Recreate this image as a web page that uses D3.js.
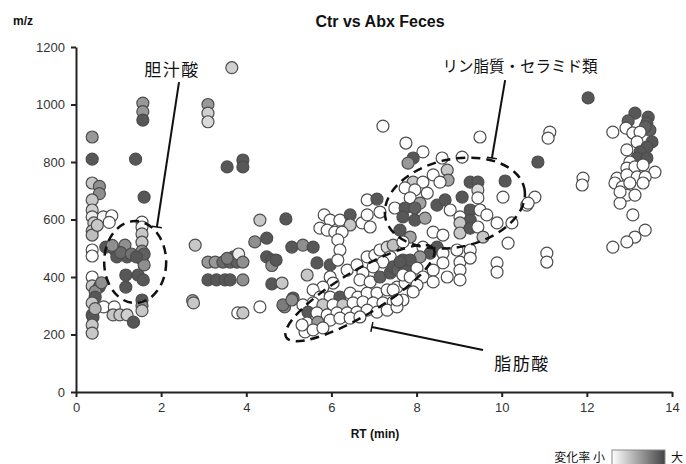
<!DOCTYPE html>
<html>
<head>
<meta charset="utf-8">
<script src="https://cdn.jsdelivr.net/npm/d3@7"></script>
<style>
  body { margin: 0; background: #fff; }
  svg text { font-family: "Liberation Sans", Arial, sans-serif; }
  .jp { font-family: "Noto Sans CJK JP", sans-serif; }
</style>
</head>
<body>
<div id="chart"></div>
<script>
// points: [RT (min), m/z, change level 0 = small .. 1 = large]
var bileRegion = [
  [0.38,887,0.55],[0.38,810,0.9],[0.38,727,0.3],[0.55,715,0.6],[0.55,690,0.6],[0.38,668,0.3],[0.38,633,0.25],
  [0.38,609,0.1],[0.42,588,0.25],[0.38,560,0.3],[0.38,546,0.35],[0.64,609,0.05],[0.84,613,0],[0.78,590,0],
  [0.5,580,0.3],[0.38,494,0],[0.38,473,0],[0.38,400,0],[0.38,369,0.3],[0.55,366,0.9],[0.45,350,0.6],
  [0.45,330,0.9],[0.38,310,0.3],[0.38,268,0.9],[0.4,261,0.9],[0.38,233,0.3],[0.38,205,0.3],[0.65,296,0],
  [0.9,296,0],[0.87,268,0.3],[1.03,268,0.3],[1.2,268,0.25],[1.35,243,0.9],[0.45,290,0.4],[0.6,380,0.6],
  [0.7,504,0.9],[0.92,494,0.9],[1.15,511,0.6],[1.2,470,0.9],[0.96,470,0.9],[1.05,485,0.8],[1.3,480,0.75],
  [1.17,407,0.9],[1.17,365,0.9],[1.46,407,0.9],[1.58,390,0.9],[1.55,591,0],[1.55,574,0.05],[1.55,550,0.3],
  [1.55,521,0.3],[1.55,490,0.6],[1.55,462,0.85],[1.6,442,0.6],[1.55,320,0.9],[1.55,300,0.6],[1.55,283,0.3],
  [1.6,678,0.9],[1.57,1005,0.55],[1.57,975,0.55],[1.57,946,0.9],[1.4,810,0.9],[1.6,480,0.85],[1.42,470,0.9],
  [0.85,510,0.6]
];

var midRegion = [
  [2.8,511,0.3],[2.74,318,0.4],[2.76,310,0.3],[3.1,1000,0.55],[3.1,970,0.25],[3.1,940,0.2],[3.66,1128,0.25],
  [3.55,783,0.9],[3.92,807,0.9],[3.92,783,0.9],
  [3.1,452,0.55],[3.27,452,0.55],[3.45,452,0.8],[3.62,452,0.85],[3.7,470,0.9],[3.78,452,0.85],[3.82,480,0.1],
  [3.92,452,0.6],[3.55,465,0.7],
  [3.1,390,0.9],[3.3,390,0.9],[3.5,390,0.9],[3.62,390,0.9],[3.92,390,0.6],
  [3.8,275,0],[3.92,275,0.3],
  [4.32,598,0.3],[4.93,602,0.9],[4.2,522,0.6],[4.48,535,0.9],[4.48,470,0.9],[4.6,460,0.9],[4.6,440,0.6],
  [4.7,459,0.9],[4.6,376,0.9],[4.84,379,0.3],[4.32,296,0],[4.9,296,0.6],[5.1,327,0.9],[5.07,504,0.9],
  [5.33,511,0.6],[5.57,504,0.9],[5.43,407,0.3],[5.66,449,0.9],[5.97,442,0.9],[4.86,303,0.7],[5.07,320,0.6],
  [5.45,285,0.9]
];

var fattyAcidBand = [
  [5.83,616,0],[5.97,598,0],[6.2,598,0],[6.44,616,0.9],[6.44,581,0.3],[6.72,588,0],[6.84,616,0],[6.91,574,0],
  [6.84,668,0],[7.07,671,0.9],[7.14,626,0],[5.73,570,0],[5.9,563,0],[6.08,556,0],[6.25,556,0],[6.15,529,0],
  [6.2,494,0],[6.15,459,0],[6.37,424,0],[6.6,442,0],[6.84,470,0],[7.02,476,0],[7.14,494,0],[7.31,504,0.2],
  [7.45,511,0.35],[7.38,470,0],[7.21,452,0],[6.98,435,0],[6.74,414,0],[6.67,390,0],[6.91,383,0],
  [7.14,400,0.85],[7.38,414,0.9],[7.45,435,0.9],[7.68,459,0.9],[7.56,424,0.85],[7.73,431,0.9],
  [5.97,400,0],[6.04,379,0],[5.8,365,0],[5.57,355,0],[5.73,330,0],[5.97,330,0],[6.2,330,0.9],[6.44,344,0],
  [6.62,330,0],[6.84,344,0],[7.07,344,0],[7.31,355,0],[7.54,365,0],[7.73,379,0],
  [5.33,303,0],[5.57,310,0],[5.8,303,0.3],[6.04,303,0],[6.27,303,0.3],[6.51,310,0],[6.74,313,0],[6.98,310,0],
  [7.21,310,0],[7.45,313,0],[7.68,320,0],
  [5.45,278,0.9],[5.66,275,0],[5.9,268,0],[6.13,275,0],[6.37,275,0],[6.6,278,0],[6.84,285,0],[7.07,278,0],
  [7.31,285,0],[7.54,296,0],
  [5.43,240,0],[5.68,243,0.55],[5.97,250,0],[6.2,257,0],[6.44,257,0],[6.67,261,0],
  [5.38,209,0],[5.57,216,0],[5.8,223,0],[5.31,233,0]
];

var lipidRegion = [
  [7.21,925,0],[7.75,866,0],[8.15,835,0],[9.49,887,0],[7.92,814,0.9],[7.8,796,0.55],[8.6,814,0],[8.72,772,0.3],
  [8.39,755,0],[8.74,737,0.5],[8.55,730,0],[9.07,817,0],[9.26,730,0.9],[9.44,730,0.9],[9.07,678,0.9],
  [9.44,703,0.2],[9.44,675,0],[10.08,734,0.9],[10.03,678,0],[10.59,650,0],[7.92,730,0.3],[8.15,730,0],
  [7.73,710,0],[7.96,703,0],[8.25,692,0],[7.85,675,0],[8.08,657,0.5],[8.48,650,0.9],[8.67,668,0.9],
  [7.49,640,0],[7.73,640,0.9],[7.96,640,0.85],[8.79,633,0],[9.26,633,0.9],[9.49,633,0],[7.68,609,0.9],
  [7.96,598,0.9],[8.2,605,0.5],[9.02,609,0],[9.26,598,0.9],[9.65,616,0],[9.89,588,0],[10.24,588,0],
  [9.02,588,0.3],[7.61,563,0.9],[7.85,539,0.5],[8.39,556,0],[8.62,546,0],[9.02,553,0.3],[9.26,570,0.9],
  [9.44,574,0],[9.56,539,0.3],[7.68,522,0],[8.15,504,0],[8.48,504,0.9],[8.32,483,0.9],[8.08,470,0.55],
  [7.85,459,0.9],[7.61,452,0.9],[8.62,483,0],[8.95,494,0],[9.26,494,0],[10.15,518,0],[9.89,449,0],
  [9.89,417,0],[9.02,452,0],[9.26,466,0],[8.62,449,0],[8.39,424,0],[8.01,431,0],[7.68,407,0],[7.85,400,0],
  [8.15,400,0],[8.72,400,0],[9.02,424,0],[9.02,390,0],[8.01,372,0],[8.39,383,0],[7.45,355,0],[7.92,348,0],
  [7.54,320,0]
];

var lateRegion = [
  [10.78,678,0],[10.62,657,0],[10.85,800,0.9],[11.13,904,0],[11.09,883,0],[12.03,1023,0.9],[11.91,744,0],
  [11.89,720,0],[11.06,483,0],[11.06,452,0],
  [13.13,970,0.9],[12.97,943,0.85],[13.44,956,0.9],[13.41,936,0.9],[13.48,911,0.85],[13.37,922,0.85],
  [12.61,904,0],[12.92,918,0],[13.08,901,0],[13.25,904,0],[13.18,870,0],[12.94,842,0],[13.53,870,0.9],
  [13.41,852,0.9],[13.25,835,0.9],[13.18,814,0.9],[13.41,814,0.9],[13.01,800,0],[12.94,779,0],[13.13,783,0],
  [13.32,790,0],[13.6,765,0],[12.71,744,0],[12.94,755,0],[13.18,748,0],[13.37,748,0],[12.66,727,0],
  [12.83,713,0],[13.01,727,0],[13.32,727,0],[12.94,685,0],[13.13,685,0],[12.78,657,0],[12.78,696,0],
  [13.08,616,0],[13.37,563,0],[13.13,539,0],[12.94,522,0],[12.61,504,0]
];

var xTicks = [0, 2, 4, 6, 8, 10, 12, 14];
var yTicks = [0, 200, 400, 600, 800, 1000, 1200];

var width = 686, height = 464;

var svg = d3.select('#chart').append('svg')
  .attr('width', width)
  .attr('height', height);

var x = d3.scaleLinear().domain([0, 14]).range([76, 672]);
var y = d3.scaleLinear().domain([0, 1200]).range([392, 47]);
var shade = d3.scaleLinear().domain([0, 1]).range(['#ffffff', '#444444']);

// axes
var yAxis = svg.append('g')
  .attr('transform', 'translate(' + x(0) + ',0)')
  .call(d3.axisLeft(y).tickValues(yTicks).tickFormat(d3.format('d'))
    .tickSize(5).tickSizeOuter(0).tickPadding(6));
var xAxis = svg.append('g')
  .attr('transform', 'translate(0,' + y(0) + ')')
  .call(d3.axisBottom(x).tickValues(xTicks).tickFormat(d3.format('d'))
    .tickSize(5).tickSizeOuter(0).tickPadding(6));

[xAxis, yAxis].forEach(function(a){
  a.select('.domain').attr('stroke', '#222').attr('stroke-width', 2);
  a.selectAll('.tick line').attr('stroke', '#222').attr('stroke-width', 2);
  a.selectAll('.tick text').attr('font-size', '13px').attr('fill', '#333')
    .attr('font-family', '"Liberation Sans", Arial, sans-serif');
});

// points
var allPoints = bileRegion.concat(midRegion, fattyAcidBand, lipidRegion, lateRegion);
svg.append('g').selectAll('circle')
  .data(allPoints)
  .enter()
  .append('circle')
  .attr('cx', function(d){ return x(d[0]); })
  .attr('cy', function(d){ return y(d[1]); })
  .attr('r', 6)
  .attr('fill', function(d){ return shade(d[2]); })
  .attr('stroke', '#4d4d4d')
  .attr('stroke-width', 1.2);

// dashed ellipses (centre in data units, radii in px)
var ellipses = [
  {rt: 1.39, mz: 452, rx: 31, ry: 41, rot: 0},
  {rt: 8.9, mz: 657, rx: 71, ry: 44, rot: -12},
  {rt: 6.67, mz: 344, rx: 86, ry: 22, rot: -31}
];
svg.append('g').selectAll('ellipse')
  .data(ellipses)
  .enter()
  .append('ellipse')
  .attr('transform', function(d){ return 'translate(' + x(d.rt) + ',' + y(d.mz) + ') rotate(' + d.rot + ')'; })
  .attr('rx', function(d){ return d.rx; })
  .attr('ry', function(d){ return d.ry; })
  .attr('fill', 'none')
  .attr('stroke', '#111')
  .attr('stroke-width', 2.5)
  .attr('stroke-dasharray', '9,6');

// label leader lines, from label to ellipse
var leaders = [
  {x1: 2.42, y1: 1078, x2: 1.90, y2: 574},
  {x1: 10.08, y1: 1085, x2: 9.77, y2: 814},
  {x1: 9.56, y1: 146, x2: 6.95, y2: 226}
];
leaders.forEach(function(l){
  var ax = x(l.x1), ay = y(l.y1), bx = x(l.x2), by = y(l.y2);
  svg.append('line')
    .attr('x1', ax).attr('y1', ay).attr('x2', bx).attr('y2', by)
    .attr('stroke', '#111').attr('stroke-width', 2);
  var dx = bx - ax, dy = by - ay, len = Math.sqrt(dx*dx + dy*dy);
  var nx = -dy / len * 5, ny = dx / len * 5;
  svg.append('line')
    .attr('x1', bx - nx).attr('y1', by - ny).attr('x2', bx + nx).attr('y2', by + ny)
    .attr('stroke', '#111').attr('stroke-width', 1.5);
});

var labels = [
  {text: '胆汁酸', x: 172, y: 76, size: 17, ls: 1.5},
  {text: 'リン脂質・セラミド類', x: 520, y: 72, size: 15.5, ls: 0},
  {text: '脂肪酸', x: 522, y: 370, size: 17, ls: 1.5}
];
svg.selectAll('text.lbl')
  .data(labels)
  .enter()
  .append('text')
  .attr('class', 'lbl jp')
  .attr('x', function(d){ return d.x; })
  .attr('y', function(d){ return d.y; })
  .attr('text-anchor', 'middle')
  .attr('font-size', function(d){ return d.size + 'px'; })
  .attr('letter-spacing', function(d){ return d.ls; })
  .attr('fill', '#111')
  .text(function(d){ return d.text; });

// titles
svg.append('text').attr('x', 380).attr('y', 27).attr('text-anchor', 'middle')
  .attr('font-size', '16px').attr('font-weight', 'bold').attr('fill', '#111')
  .text('Ctr vs Abx Feces');
svg.append('text').attr('x', 13).attr('y', 25)
  .attr('font-size', '12px').attr('font-weight', 'bold').attr('fill', '#111')
  .text('m/z');
svg.append('text').attr('x', 375).attr('y', 438).attr('text-anchor', 'middle')
  .attr('font-size', '12px').attr('font-weight', 'bold').attr('fill', '#111')
  .text('RT (min)');

// colour legend
var defs = svg.append('defs');
var grad = defs.append('linearGradient').attr('id', 'lg');
grad.append('stop').attr('offset', '0%').attr('stop-color', shade(0));
grad.append('stop').attr('offset', '100%').attr('stop-color', shade(1));
svg.append('text').attr('class', 'jp').attr('x', 605).attr('y', 462).attr('text-anchor', 'end')
  .attr('font-size', '12px').attr('fill', '#111').text('変化率 小');
svg.append('rect').attr('x', 612).attr('y', 450).attr('width', 53).attr('height', 16)
  .attr('fill', 'url(#lg)').attr('stroke', '#888').attr('stroke-width', 1);
svg.append('text').attr('class', 'jp').attr('x', 671).attr('y', 462)
  .attr('font-size', '12px').attr('fill', '#111').text('大');
</script>
</body>
</html>
